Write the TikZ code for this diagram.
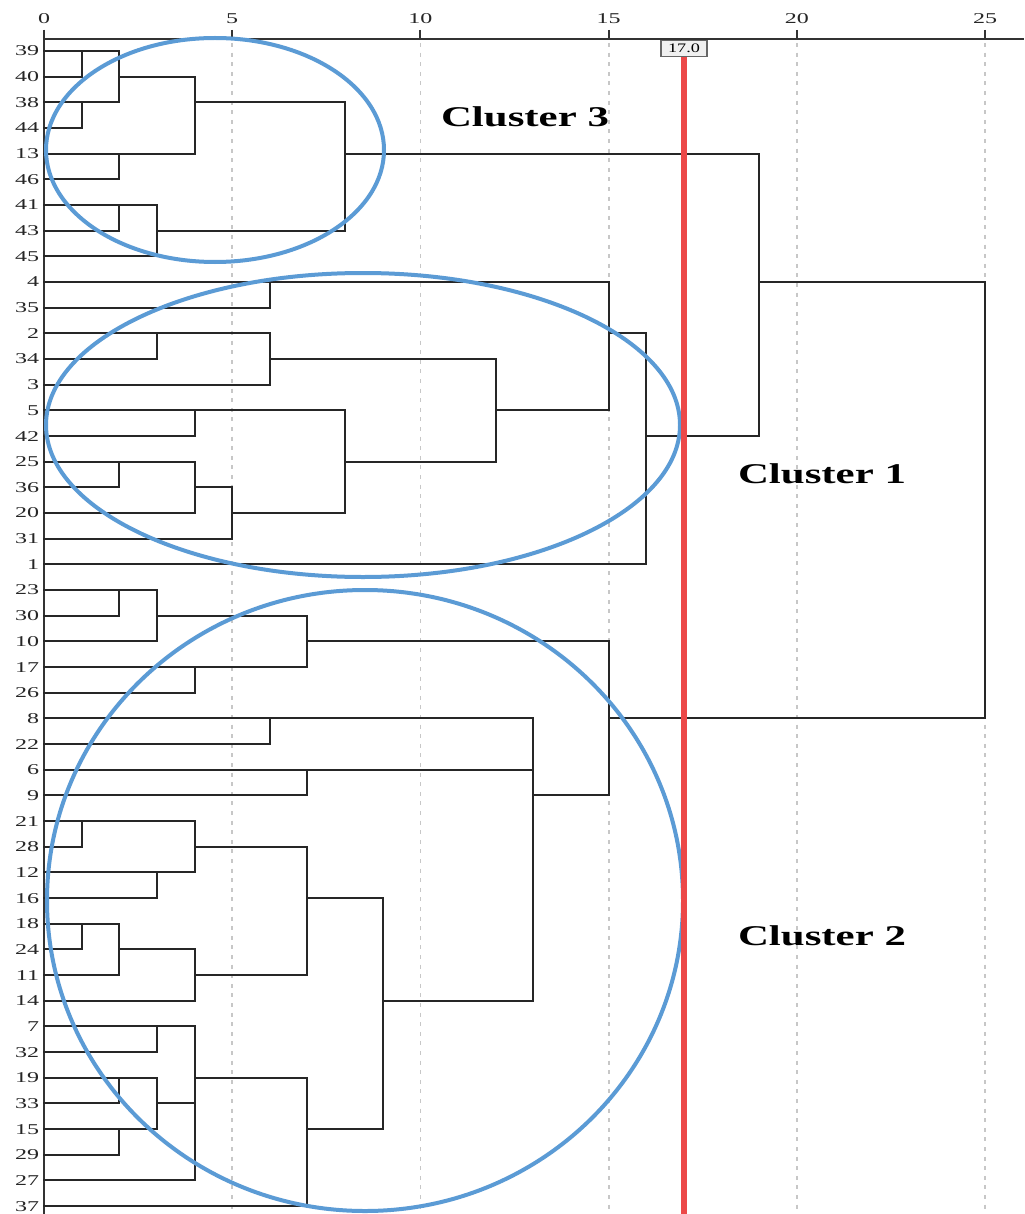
\documentclass[tikz,border=0pt]{standalone}
\usepackage{fontspec}
\setmainfont{Liberation Serif}
\definecolor{ellblue}{RGB}{91,155,213}
\definecolor{cutred}{RGB}{236,72,72}
\begin{document}
\begin{tikzpicture}[x=0.5pt,y=-0.5pt,
  seg/.style={line width=1pt, draw=black!85, line cap=rect},
  gridline/.style={line width=0.9pt, draw=black!22, dash pattern=on 2pt off 2.8pt},
  axisline/.style={line width=1pt, draw=black!80},
  ell/.style={line width=2pt, draw=ellblue},
  leaf/.style={anchor=east, inner sep=0pt, font=\fontsize{7.5}{8}\selectfont, text=black!85},
  ticklab/.style={inner sep=0pt, font=\fontsize{7.5}{8}\selectfont, text=black!85},
  clab/.style={inner sep=0pt, font=\fontsize{14.3}{16}\selectfont\bfseries}]
\useasboundingbox (0,0) rectangle (1024,1214);
\fill[white] (0,0) rectangle (1024,1214);
% grid
\foreach \v in {5,10,15,20,25}
  \draw[gridline] ({44+37.64*\v},43) -- ({44+37.64*\v},1214);
% axes
\draw[axisline] (44,39) -- (1024,39);
\draw[axisline] (44,30) -- (44,1214);
\foreach \v in {0,5,10,15,20,25}{
  \draw[axisline] ({44+37.64*\v},30) -- ({44+37.64*\v},39);
  \node[ticklab] (t\v) at ({44+37.64*\v},18.5) {\scalebox{1.6}[1]{\v}};
}
% dendrogram
\begin{scope}[shift={(44,51)}, x=18.82pt, y=-12.835pt]
\foreach \n [count=\i from 0] in {39,40,38,44,13,46,41,43,45,4,35,2,34,3,5,42,25,36,20,31,1,23,30,10,17,26,8,22,6,9,21,28,12,16,18,24,11,14,7,32,19,33,15,29,27,37}
  \node[leaf] (l\n) at (-0.12,\i) {\scalebox{1.6}[1]{\n}};
% cluster 3
\draw[seg] (0,0)--(2,0) (0,1)--(1,1) (1,0)--(1,1)
  (2,1)--(4,1) (2,0)--(2,2)
  (0,2)--(2,2) (4,2)--(8,2) (0,3)--(1,3) (1,2)--(1,3)
  (4,1)--(4,4) (0,4)--(4,4) (8,4)--(19,4) (2,4)--(2,5) (0,5)--(2,5)
  (0,6)--(3,6) (2,6)--(2,7) (3,6)--(3,8) (0,7)--(2,7) (3,7)--(8,7) (0,8)--(3,8)
  (8,2)--(8,7);
% cluster 1
\draw[seg] (0,9)--(15,9) (6,9)--(6,10) (0,10)--(6,10)
  (0,11)--(6,11) (3,11)--(3,12) (0,12)--(3,12) (6,12)--(12,12) (6,11)--(6,13) (0,13)--(6,13)
  (0,14)--(8,14) (4,14)--(4,15) (0,15)--(4,15)
  (0,16)--(4,16) (8,16)--(12,16) (2,16)--(2,17) (0,17)--(2,17) (4,17)--(5,17)
  (4,16)--(4,18) (0,18)--(4,18) (5,18)--(8,18) (5,17)--(5,19) (0,19)--(5,19)
  (8,14)--(8,18) (12,12)--(12,16) (12,14)--(15,14) (15,9)--(15,14)
  (15,11)--(16,11) (16,11)--(16,20) (0,20)--(16,20)
  (16,15)--(19,15) (19,4)--(19,15) (19,9)--(25,9) (25,9)--(25,26);
% cluster 2
\draw[seg] (0,21)--(3,21) (2,21)--(2,22) (0,22)--(2,22) (3,22)--(7,22)
  (3,21)--(3,23) (0,23)--(3,23) (7,23)--(15,23)
  (7,22)--(7,24) (0,24)--(7,24) (4,24)--(4,25) (0,25)--(4,25)
  (0,26)--(13,26) (6,26)--(6,27) (0,27)--(6,27) (15,26)--(25,26)
  (0,28)--(13,28) (7,28)--(7,29) (0,29)--(7,29) (13,29)--(15,29)
  (15,23)--(15,29) (13,26)--(13,37)
  (0,30)--(4,30) (1,30)--(1,31) (0,31)--(1,31) (4,31)--(7,31) (4,30)--(4,32)
  (0,32)--(4,32) (3,32)--(3,33) (0,33)--(3,33) (7,33)--(9,33) (7,31)--(7,36)
  (0,34)--(2,34) (1,34)--(1,35) (0,35)--(1,35) (2,35)--(4,35) (2,34)--(2,36)
  (0,36)--(2,36) (4,36)--(7,36) (4,35)--(4,37) (0,37)--(4,37) (9,37)--(13,37)
  (9,33)--(9,42)
  (0,38)--(4,38) (3,38)--(3,39) (0,39)--(3,39) (4,38)--(4,44)
  (0,40)--(3,40) (2,40)--(2,41) (0,41)--(2,41) (4,40)--(7,40) (3,41)--(4,41)
  (3,40)--(3,42) (0,42)--(3,42) (2,42)--(2,43) (0,43)--(2,43) (7,42)--(9,42)
  (0,44)--(4,44) (7,40)--(7,45) (0,45)--(7,45);
\end{scope}
% ellipses
\draw[ell] (215,150) ellipse [x radius=169, y radius=112];
\draw[ell] (363,425) ellipse [x radius=317, y radius=152];
\draw[ell] (365,900.5) ellipse [x radius=318, y radius=310.5];
% labels
\node[clab] (c3) at (525,116.5) {\scalebox{1.5}[1]{Cluster 3}};
\node[clab] (c1) at (822,473.5) {\scalebox{1.5}[1]{Cluster 1}};
\node[clab] (c2) at (822,935.5) {\scalebox{1.5}[1]{Cluster 2}};
% cut line
\node[draw=black!60, fill=black!6, line width=0.6pt, inner sep=0pt,
      minimum width=23pt, minimum height=8pt,
      font=\fontsize{6.5}{7}\selectfont] (cut) at (684,48.5) {\scalebox{1.4}[1]{17.0}};
\coordinate (cutend) at (684,1214);
\draw[line width=2.6pt, cutred] (cut.south) -- (cutend);
\end{tikzpicture}
\end{document}
